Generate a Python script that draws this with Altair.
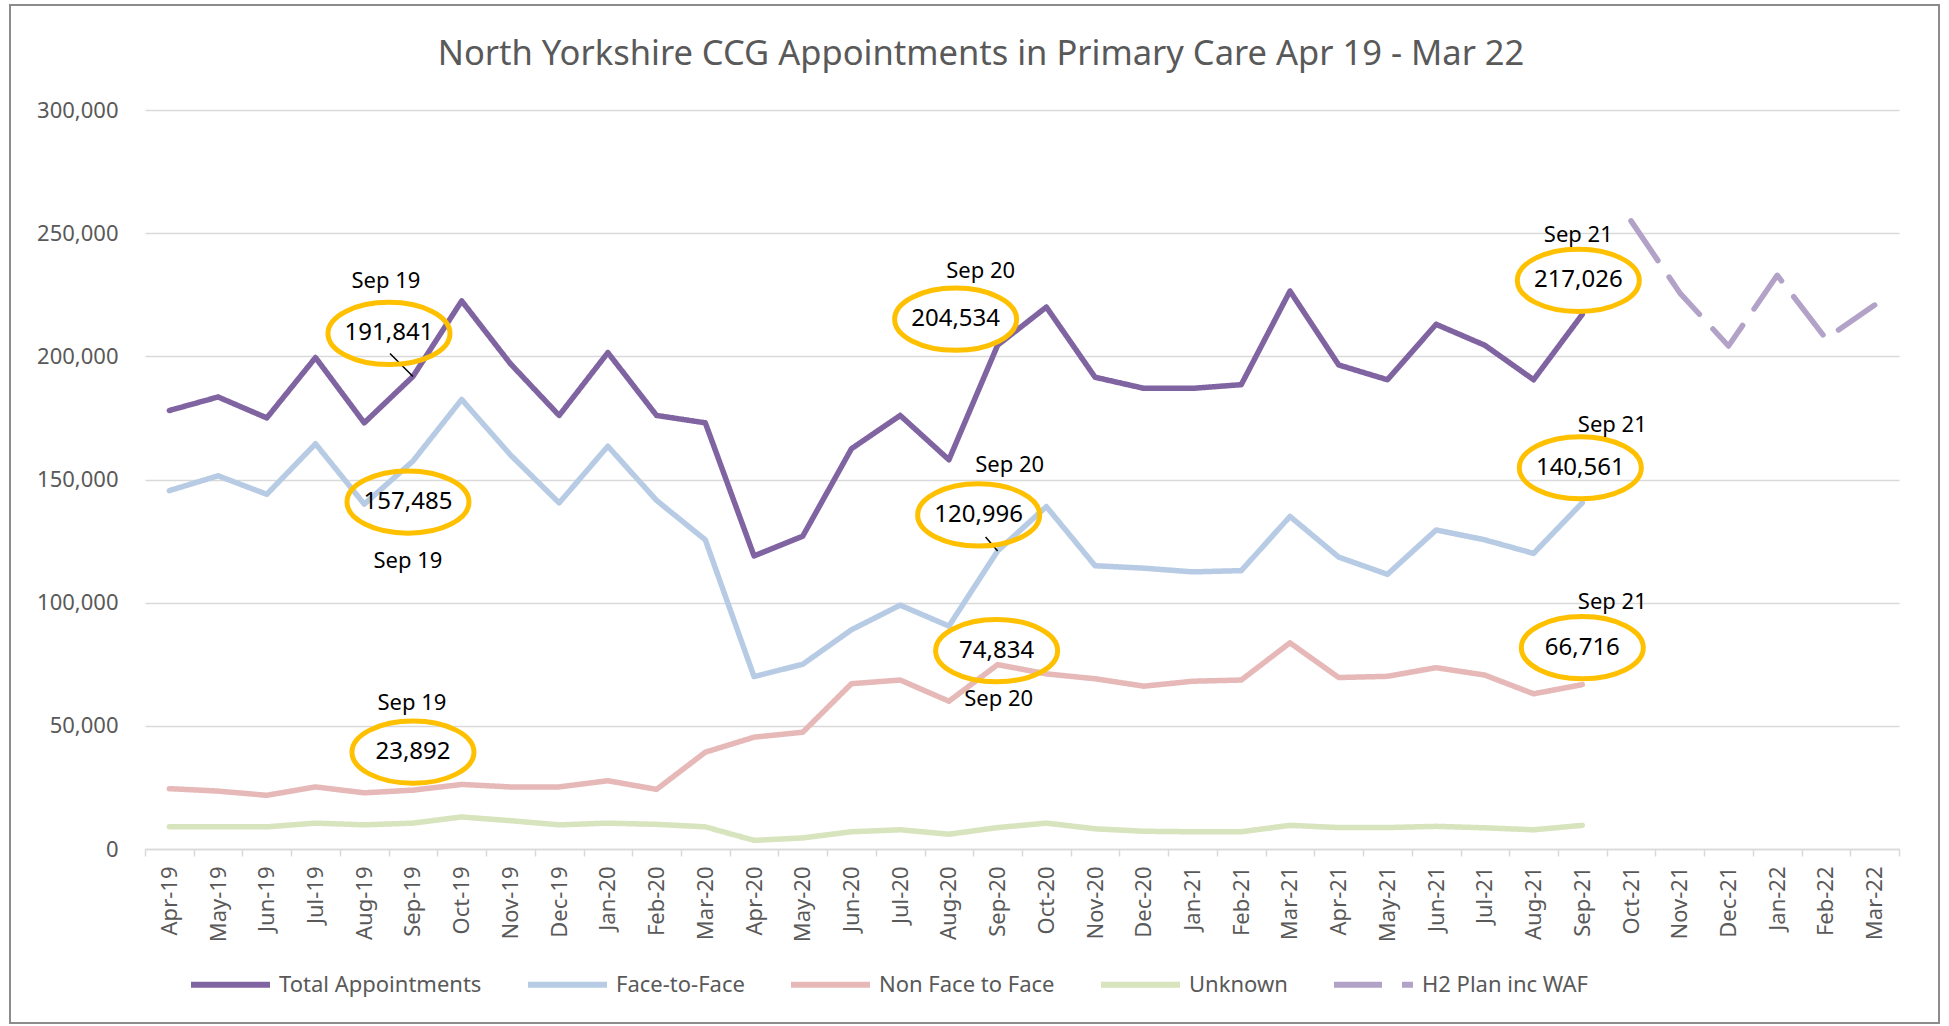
import altair as alt
import pandas as pd

# ---------------- data ----------------
months = ["Apr-19", "May-19", "Jun-19", "Jul-19", "Aug-19", "Sep-19", "Oct-19", "Nov-19",
          "Dec-19", "Jan-20", "Feb-20", "Mar-20", "Apr-20", "May-20", "Jun-20", "Jul-20",
          "Aug-20", "Sep-20", "Oct-20", "Nov-20", "Dec-20", "Jan-21", "Feb-21", "Mar-21",
          "Apr-21", "May-21", "Jun-21", "Jul-21", "Aug-21", "Sep-21", "Oct-21", "Nov-21",
          "Dec-21", "Jan-22", "Feb-22", "Mar-22"]

series_names = ["Total Appointments", "Face-to-Face", "Non Face to Face", "Unknown", "H2 Plan inc WAF"]

total = [178000, 183500, 175000, 199500, 173000, 191841, 222500, 197000, 176000, 201500,
         176000, 173000, 119000, 127000, 162500, 176000, 158000, 204534, 220000, 191500,
         187000, 187000, 188500, 226500, 196500, 190500, 213000, 204500, 190500, 217026]
face_to_face = [145500, 151500, 144000, 164500, 140000, 157485, 182500, 160000, 140500, 163500,
                141500, 125500, 70000, 75000, 89000, 99000, 90500, 120996, 139000, 115000,
                114000, 112500, 113000, 135000, 118500, 111500, 129500, 125500, 120000, 140561]
non_face_to_face = [24500, 23500, 21800, 25200, 22800, 23892, 26200, 25200, 25200, 27700,
                    24200, 39300, 45400, 47400, 67100, 68600, 60000, 74834, 71100, 69100,
                    66100, 68100, 68600, 83700, 69600, 70100, 73600, 70600, 63000, 66716]
unknown = [9000, 9000, 9000, 10500, 9800, 10500, 13000, 11500, 9800, 10500,
           10000, 9000, 3500, 4500, 7000, 7800, 6000, 8700, 10500, 8200,
           7200, 7000, 7000, 9600, 8700, 8700, 9200, 8600, 7800, 9600]
h2_plan_months = ["Oct-21", "Nov-21", "Dec-21", "Jan-22", "Feb-22", "Mar-22"]
h2_plan = [255000, 225800, 204200, 232900, 207200, 220800]

y_ticks = [0, 50000, 100000, 150000, 200000, 250000, 300000]

# annotations (callouts)
ann_series = ["Total Appointments", "Face-to-Face", "Non Face to Face",
              "Total Appointments", "Face-to-Face", "Non Face to Face",
              "Total Appointments", "Face-to-Face", "Non Face to Face"]
ann_months = ["Sep-19", "Sep-19", "Sep-19", "Sep-20", "Sep-20", "Sep-20", "Sep-21", "Sep-21", "Sep-21"]
ann_periods = ["Sep 19", "Sep 19", "Sep 19", "Sep 20", "Sep 20", "Sep 20", "Sep 21", "Sep 21", "Sep 21"]

# ---------------- styles ----------------
series_colors = ["#8064A2", "#B7CCE4", "#E6B9B8", "#D7E4BD", "#B3A2C7"]
series_dashes = [[1, 0], [1, 0], [1, 0], [1, 0], [48, 20]]
# pixel offsets of the callout ellipse / period tag relative to the data point
ann_ellipse_offsets = [(-24, -43), (-5, 41), (0, -38), (-42, -26), (-19, -36), (-1, -14),
                       (-4, -34), (-2, -35), (0, -37)]
ann_tag_offsets = [(-27, -95), (-5, 100), (-1, -87), (-17, -74), (12, -86), (1, 34),
                   (-4, -79), (30, -78), (30, -83)]
leaders = {0: ("M0,0 L-1,-1", 2116), 4: ("M0,0 L-0.86,-1", 784)}

FONT = "Noto Sans"
GREY_TEXT = "#595959"
GRID = "#D9D9D9"
ELLIPSE = "M-1,0 A1,0.51 0 1,1 1,0 A1,0.51 0 1,1 -1,0 Z"

# ---------------- table ----------------
rows = []
for name, vals in zip(series_names[:4], [total, face_to_face, non_face_to_face, unknown]):
    for m, v in zip(months, vals):
        rows.append({"month": m, "series": name, "value": v})
for m, v in zip(h2_plan_months, h2_plan):
    rows.append({"month": m, "series": series_names[4], "value": v})
df = pd.DataFrame(rows)

lookup = {(r["series"], r["month"]): r["value"] for r in rows}

X = alt.X("month:N", sort=months,
          scale=alt.Scale(type="band", domain=months, paddingInner=0, paddingOuter=0),
          axis=alt.Axis(title=None, labelAngle=-90, labelFont=FONT, labelFontSize=22,
                        labelColor=GREY_TEXT, labelPadding=10, tickBand="extent",
                        ticks=True, tickSize=7, tickColor=GRID, tickWidth=1.5,
                        domain=True, domainColor=GRID, domainWidth=1.5, grid=False))
Y = alt.Y("value:Q",
          scale=alt.Scale(domain=[0, 300000], nice=False, zero=True),
          axis=alt.Axis(title=None, values=y_ticks,
                        format=",.0f", labelFont=FONT, labelFontSize=22, labelColor=GREY_TEXT,
                        labelPadding=27, ticks=False, domain=False, grid=True,
                        gridColor=GRID, gridWidth=1.5))

lines = alt.Chart(df).mark_line(strokeWidth=5.5, strokeCap="round", strokeJoin="round").encode(
    x=X, y=Y,
    color=alt.Color("series:N", sort=series_names,
                    scale=alt.Scale(domain=series_names, range=series_colors),
                    legend=alt.Legend(title=None)),
    strokeDash=alt.StrokeDash("series:N", sort=series_names,
                              scale=alt.Scale(domain=series_names, range=series_dashes),
                              legend=alt.Legend(title=None)),
    detail="series:N",
)

border = alt.Chart(alt.Data(values=[{"b": 1}])).mark_rect(
    fill=None, stroke="#8C8C8C", strokeWidth=2
).encode(x=alt.value(-135), x2=alt.value(1794), y=alt.value(-105), y2=alt.value(913))

layers = [border, lines]
for i in range(len(ann_series)):
    s, m = ann_series[i], ann_months[i]
    d = pd.DataFrame([{"month": m, "value": lookup[(s, m)], "period": ann_periods[i]}])
    ex, ey = ann_ellipse_offsets[i]
    tx, ty = ann_tag_offsets[i]
    base = alt.Chart(d)
    if i in leaders:
        path, size = leaders[i]
        layers.append(base.mark_point(shape=path, size=size, filled=False, stroke="#000000",
                                      strokeWidth=1.5, opacity=1).encode(x=X, y=Y))
    layers.append(base.mark_point(shape=ELLIPSE, size=14884, filled=False, stroke="#FFC000",
                                  strokeWidth=5, opacity=1, xOffset=ex, yOffset=ey).encode(x=X, y=Y))
    layers.append(base.mark_text(font=FONT, fontSize=24, color="#000000", dx=ex, dy=ey,
                                 baseline="middle", align="center").encode(
        x=X, y=Y, text=alt.Text("value:Q", format=",")))
    layers.append(base.mark_text(font=FONT, fontSize=22, color="#000000", dx=tx, dy=ty,
                                 baseline="middle", align="center").encode(
        x=X, y=Y, text="period:N"))

chart = alt.layer(*layers).properties(
    width=1754, height=739,
    padding={"left": 145, "top": 110, "right": 50, "bottom": 177},
    autosize=alt.AutoSizeParams(type="none"),
    title=alt.Title("North Yorkshire CCG Appointments in Primary Care Apr 19 - Mar 22",
                    font=FONT, fontSize=34.5, fontWeight="normal", color=GREY_TEXT,
                    anchor="middle", baseline="middle", dx=-41, dy=85, offset=0),
    background="white",
).configure_view(stroke=None).configure_legend(
    orient="none", legendX=43, legendY=832, direction="horizontal",
    symbolType="stroke", symbolSize=6241, symbolStrokeWidth=6,
    labelFont=FONT, labelFontSize=22, labelColor=GREY_TEXT, labelOffset=6,
    columnPadding=34, labelLimit=0, padding=0,
)

chart.save("out.html", embed_options={"renderer": "svg", "actions": False})
